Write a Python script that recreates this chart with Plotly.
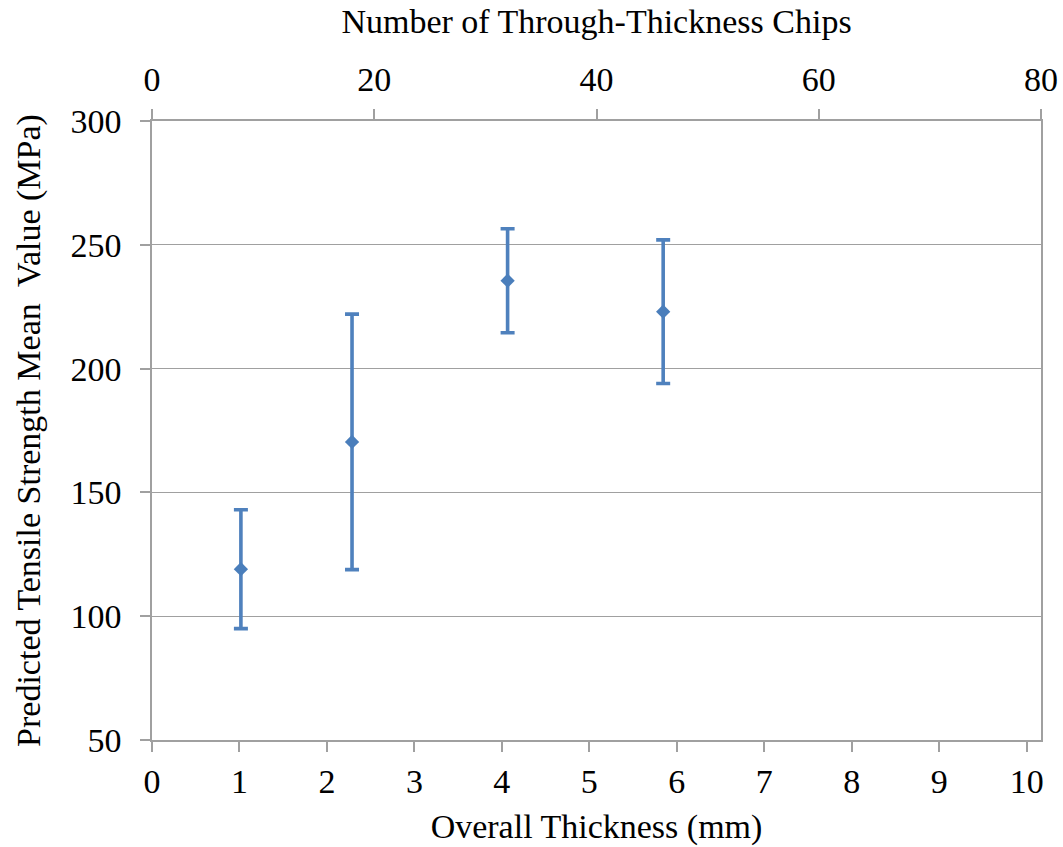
import plotly.graph_objects as go

# Measured specimens: chip count, overall thickness, predicted strength and its spread
chips = [8, 18, 32, 46]
thickness_mm = [1.0, 2.28, 4.07, 5.84]
strength_mpa = [119.0, 170.4, 235.5, 223.0]
strength_err = [24.0, 51.6, 21.0, 29.0]

thickness_ticks = list(range(0, 11))
chip_ticks = [0, 20, 40, 60, 80]
strength_ticks = [50, 100, 150, 200, 250, 300]

BLUE = "#4a7ebb"
GRID = "#a0a0a0"
FONT = "Liberation Serif"

fig = go.Figure()

# Mean strength with error bars, placed on the chip-count axis
fig.add_trace(go.Scatter(
    x=chips, y=strength_mpa, xaxis="x2", yaxis="y",
    mode="markers",
    marker=dict(symbol="diamond", size=11, color=BLUE),
    error_y=dict(type="data", array=strength_err, visible=True,
                 color="#4f81bd", thickness=3.6, width=7),
    showlegend=False, hoverinfo="x+y",
))

# Same specimens against overall thickness (keeps the bottom axis active)
fig.add_trace(go.Scatter(
    x=thickness_mm, y=strength_mpa, xaxis="x", yaxis="y",
    mode="markers", marker=dict(opacity=0),
    showlegend=False, hoverinfo="skip",
))

axis_font = dict(family=FONT, size=34, color="black")
title_font = dict(family=FONT, size=34, color="black")

fig.update_layout(
    width=1063, height=847,
    margin=dict(l=152, r=22, t=121, b=107),
    paper_bgcolor="white", plot_bgcolor="white",
    font=dict(family=FONT, color="black"),
    xaxis=dict(
        range=[0, 10.164], tickvals=thickness_ticks,
        ticks="outside", ticklen=10, tickwidth=1.5, tickcolor=GRID,
        showline=True, linecolor=GRID, linewidth=1.5,
        showgrid=False, zeroline=False, automargin=False,
        tickfont=axis_font,
        title=dict(text="Overall Thickness (mm)", font=title_font, standoff=16),
    ),
    xaxis2=dict(
        range=[0, 80], tickvals=chip_ticks, overlaying="x", side="top",
        ticks="outside", ticklen=10, tickwidth=1.5, tickcolor=GRID,
        showline=True, linecolor=GRID, linewidth=1.5,
        showgrid=False, zeroline=False, automargin=False,
        tickfont=axis_font, ticklabelstandoff=5,
        title=dict(text="Number of Through-Thickness Chips", font=title_font, standoff=17),
    ),
    yaxis=dict(
        range=[50, 300], tickvals=strength_ticks,
        ticks="outside", ticklen=10, tickwidth=1.5, tickcolor=GRID,
        showline=True, linecolor=GRID, linewidth=1.5, mirror=True,
        showgrid=True, gridcolor=GRID, gridwidth=1.3, zeroline=False,
        automargin=False, tickfont=axis_font, ticklabelstandoff=12,
        title=dict(text="Predicted Tensile Strength Mean  Value (MPa)",
                   font=title_font, standoff=20),
    ),
)

fig.write_html("out.html")
